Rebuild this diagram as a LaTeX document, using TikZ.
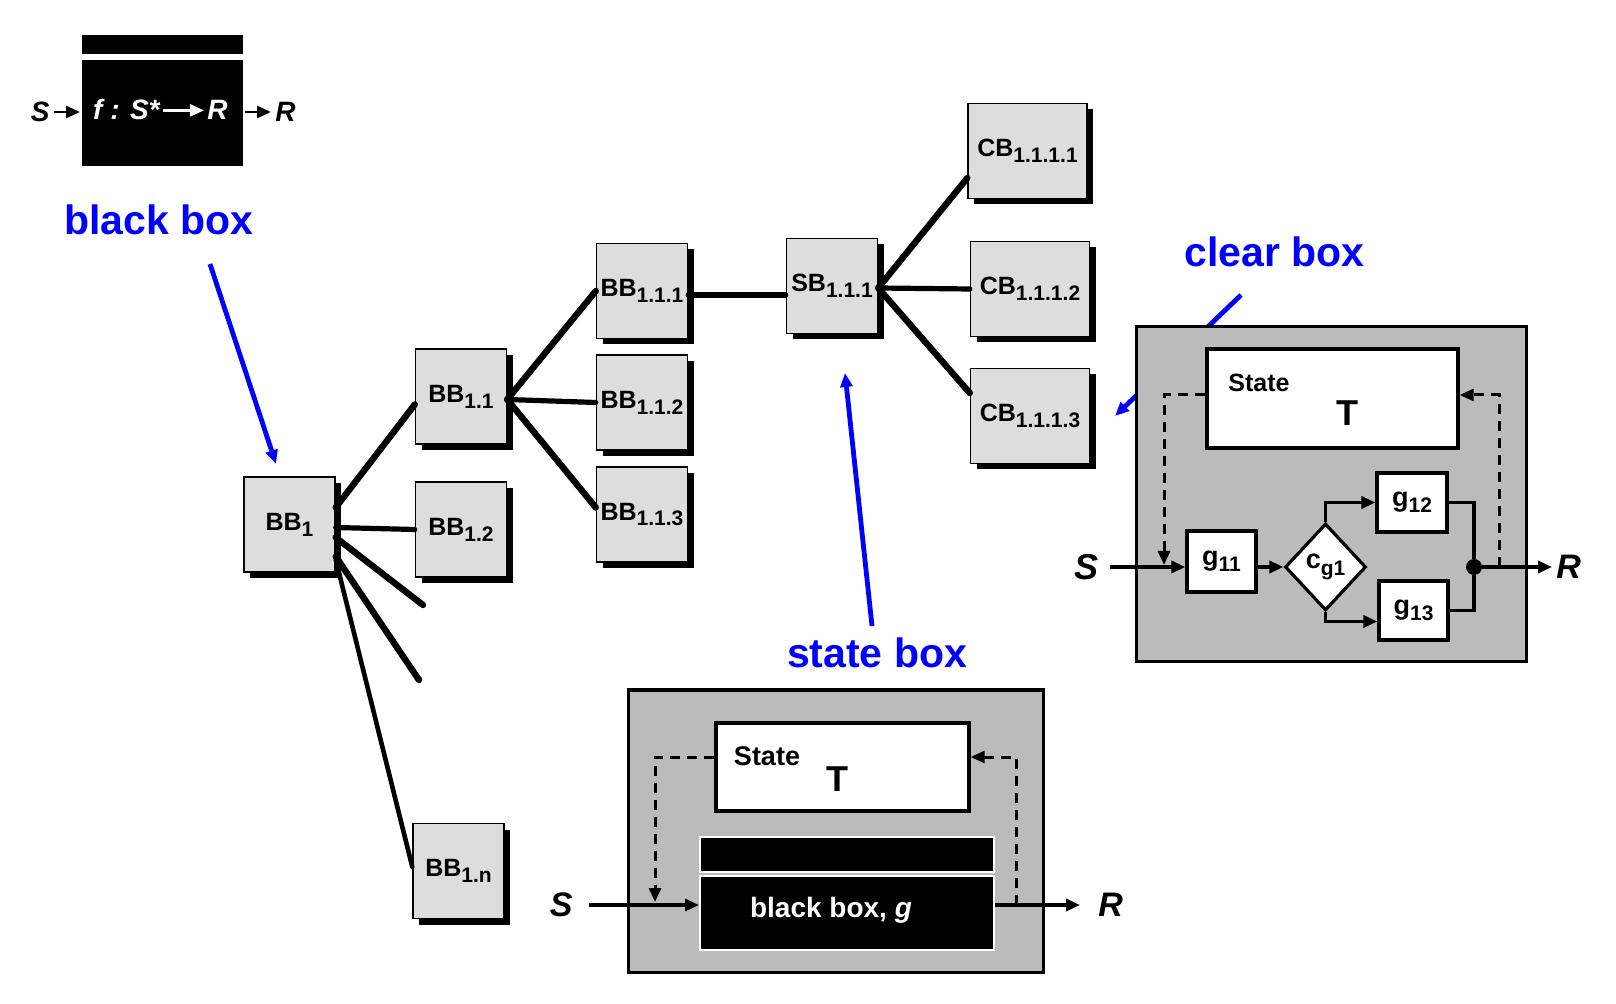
\documentclass[tikz,border=0pt]{standalone}
\usepackage{fontspec}
\setmainfont{Liberation Sans}
\usepackage{tikz}
\usetikzlibrary{arrows.meta,shapes.geometric,positioning,shadows,calc}

\definecolor{boxgray}{RGB}{221,221,221}
\definecolor{panelgray}{RGB}{187,187,187}
\definecolor{labelblue}{RGB}{0,0,255}

% lowered index in a slightly smaller size
\newcommand{\idx}[1]{\raisebox{-0.45ex}{\fontsize{10.5}{12}\selectfont #1}}

\begin{document}
\begin{tikzpicture}[x=0.5pt, y=-0.5pt,
    bb/.style={draw, line width=0.7pt, fill=boxgray, inner sep=0pt,
      minimum width=45.5pt, minimum height=47.5pt,
      font=\fontsize{12.5}{14}\selectfont\bfseries,
      drop shadow={shadow xshift=3pt, shadow yshift=-3pt, fill=black, opacity=1}},
    cb/.style={bb, minimum width=59.5pt},
    tree/.style={line width=3.2pt, line cap=round},
    treeh/.style={line width=2.6pt, line cap=round},
    panel/.style={draw, line width=1.5pt, fill=panelgray, inner sep=0pt},
    statebox/.style={draw, line width=1.7pt, fill=white, inner sep=0pt},
    gbox/.style={draw, line width=1.6pt, fill=white, inner sep=0pt,
      font=\fontsize{13.5}{15}\selectfont\bfseries},
    bbox/.style={draw=white, line width=1pt, fill=black, inner sep=0pt},
    wire/.style={line width=1.7pt},
    arr/.style={wire, -{Triangle[length=7pt, width=6pt]}},
    dsh/.style={line width=1.5pt, dash pattern=on 5pt off 3.5pt,
      -{Triangle[length=7pt, width=6pt]}},
    bluearr/.style={draw=labelblue, line width=2.4pt,
      -{Triangle[length=7pt, width=6pt]}},
    bluelab/.style={text=labelblue, font=\fontsize{20.5}{24}\selectfont\bfseries,
      anchor=base},
    io/.style={font=\fontsize{17}{20}\selectfont\bfseries\itshape, inner sep=0pt},
    statelab/.style={font=\fontsize{13.5}{16}\selectfont\bfseries, anchor=base},
    tlab/.style={font=\fontsize{18}{20}\selectfont\bfseries, anchor=base},
    fsmall/.style={font=\fontsize{14}{16}\selectfont\bfseries\itshape},
  ]
\useasboundingbox (0,0) rectangle (1616,1004);

% black box, top left
\node[bbox, minimum width=81.5pt, minimum height=54pt] (fmain) at (162.5,113) {};
\node[bbox, minimum width=81.5pt, minimum height=10.5pt, above=1pt of fmain] (ftop) {};
\node[fsmall, text=white, anchor=base east, inner sep=0pt] (fdom) at (160,120) {f : S*};
\node[fsmall, text=white, anchor=base west, inner sep=0pt] (fcod) at (207,120) {R};
\draw[white, arr, line width=1.2pt] ([xshift=1.5pt]fdom.east |- fcod.west) -- ([xshift=-1.5pt]fcod.west);
\node[io, fsmall, anchor=east, inner xsep=2pt] (fin) at (54,112) {S};
\node[io, fsmall, anchor=west, inner xsep=2pt] (fout) at (271,112) {R};
\draw[arr, line width=1.4pt] (fin.east) -- (fin.east -| fmain.west);
\draw[arr, line width=1.4pt] (fmain.east |- fout.west) -- (fout.west);

% labels and pointers
\node[bluelab] (bblab) at (159,235) {black box};
\node[bluelab] (cblab) at (1274.5,267) {clear box};
\node[bluelab] (sblab) at (877,668) {state box};
\coordinate (bbtail) at (210,264);
\coordinate (bbtip) at (276,464);
\coordinate (cbtail) at (1241,295);
\coordinate (cbtip) at (1115,416);
\coordinate (sbtail) at (872,626);
\coordinate (sbtip) at (845,373);
\draw[bluearr] (bbtail) -- (bbtip);
\draw[bluearr] (cbtail) -- (cbtip);
\draw[bluearr] (sbtail) -- (sbtip);

% tree of boxes
\node[bb] (bb1) at (289.5,524.5) {BB\idx{1}};
\node[bb] (bb11) at (461,396.5) {BB\idx{1.1}};
\node[bb] (bb12) at (461,529.5) {BB\idx{1.2}};
\node[bb] (bb1n) at (458.5,871) {BB\idx{1.n}};
\node[bb] (bb111) at (642,291) {BB\idx{1.1.1}};
\node[bb] (bb112) at (642,402.5) {BB\idx{1.1.2}};
\node[bb] (bb113) at (642,514.5) {BB\idx{1.1.3}};
\node[bb] (sb111) at (832,286) {SB\idx{1.1.1}};
\node[cb] (cb1111) at (1027.5,151) {CB\idx{1.1.1.1}};
\node[cb] (cb1112) at (1030,289) {CB\idx{1.1.1.2}};
\node[cb] (cb1113) at (1030,416) {CB\idx{1.1.1.3}};
\coordinate (stubA) at (423,605);
\coordinate (stubB) at (419,680);

\draw[tree] ($(bb1.east)+(0,-17)$) -- ($(bb11.west)+(0,8)$);
\draw[treeh] ($(bb1.east)+(0,3)$) -- (bb12.west);
\draw[tree] ($(bb1.east)+(0,13)$) -- (stubA);
\draw[tree] ($(bb1.east)+(0,32)$) -- (stubB);
\draw[tree, line width=2.3pt] ($(bb1.east)+(0,35)$) -- ($(bb1n.west)+(0,-4)$);
\draw[tree] ($(bb11.east)+(0,3)$) -- (bb111.west);
\draw[treeh] ($(bb11.east)+(0,3)$) -- (bb112.west);
\draw[tree] ($(bb11.east)+(0,3)$) -- ($(bb113.west)+(0,-7)$);
\draw[treeh] ($(bb111.east)+(0,4)$) -- ($(sb111.west)+(0,9)$);
\draw[tree] ($(sb111.east)+(0,2)$) -- ($(cb1111.west)+(0,27)$);
\draw[treeh] ($(sb111.east)+(0,2)$) -- (cb1112.west);
\draw[tree] ($(sb111.east)+(0,2)$) -- ($(cb1113.west)+(0,-23)$);

% clear box
\node[panel, minimum width=195pt, minimum height=167.5pt] (clear) at (1331,494.5) {};
\node[statebox, minimum width=125.5pt, minimum height=49.5pt] (cbstate) at (1332.5,398.5) {};
\node[statelab, font=\fontsize{12.5}{15}\selectfont\bfseries] (cbstatelab) at (1259,392) {State};
\node[tlab] (cbt) at (1347,426) {T};
\node[gbox, minimum width=34.5pt, minimum height=30.5pt] (g11) at (1221.5,561.5) {g\idx{11}};
\node[diamond, draw, line width=1.6pt, fill=white, inner sep=0pt,
  minimum width=40.5pt, minimum height=43.5pt,
  font=\fontsize{13.5}{15}\selectfont\bfseries] (cg1) at (1325.5,567) {c\idx{g1}};
\node[gbox, minimum width=35pt, minimum height=29.5pt] (g12) at (1412,502.5) {g\idx{12}};
\node[gbox, minimum width=34.5pt, minimum height=29.5pt] (g13) at (1413.5,610.5) {g\idx{13}};
\node[circle, fill, inner sep=0pt, minimum size=8pt] (cbdot) at (1474,567) {};
\node[io, font=\fontsize{18}{20}\selectfont\bfseries\itshape, anchor=east,
  inner xsep=5.5pt] (cbin) at (1110,567) {S};
\node[io, anchor=west, inner xsep=2pt] (cbout) at (1552,567) {R};
\coordinate (cbdl) at (1164,565);
\coordinate (cbdr) at (1499,567);

\draw[arr] (cbin.east) -- (cbin.east -| g11.west);
\draw[arr] (g11.east |- cbin.east) -- (cg1.west);
\draw[arr] (cg1.north) |- (g12.west);
\draw[arr] (cg1.south) |- ($(g13.west)+(0,11)$);
\draw[wire] (g12.east) -| (cbdot);
\draw[wire] (g13.east) -| (cbdot);
\draw[arr] (cbdot) -- (cbout.west);
\draw[dsh] ($(cbstate.west)+(0,-3.5)$) -| (cbdl);
\draw[dsh] (cbdr) |- ($(cbstate.east)+(0,-3.5)$);

% state box
\node[panel, minimum width=207.5pt, minimum height=141pt] (statep) at (835.5,831) {};
\node[statebox, minimum width=126.5pt, minimum height=44pt] (sbstate) at (842.5,767) {};
\node[statelab] (sbstatelab) at (767,765) {State};
\node[tlab] (sbt) at (837.5,791) {T};
\node[bbox, minimum width=147pt, minimum height=37pt] (gmain) at (847,913) {};
\node[bbox, minimum width=147pt, minimum height=17.5pt, above=1pt of gmain] (gtop) {};
\node[text=white, font=\fontsize{14}{16}\selectfont\bfseries, anchor=base]
  (glab) at (831,917) {black box, \textit{g}};
\node[io, anchor=east, inner xsep=8pt] (sbin) at (589,905) {S};
\node[io, anchor=west, inner xsep=9pt] (sbout) at (1080,905) {R};
\coordinate (sbdl) at (655,902);
\coordinate (sbdr) at (1016,905);

\draw[arr] (sbin.east) -- (sbin.east -| gmain.west);
\draw[arr] (gmain.east |- sbout.west) -- (sbout.west);
\draw[dsh] ($(sbstate.west)+(0,-10)$) -| (sbdl);
\draw[dsh] (sbdr) |- ($(sbstate.east)+(0,-10)$);
\end{tikzpicture}
\end{document}
